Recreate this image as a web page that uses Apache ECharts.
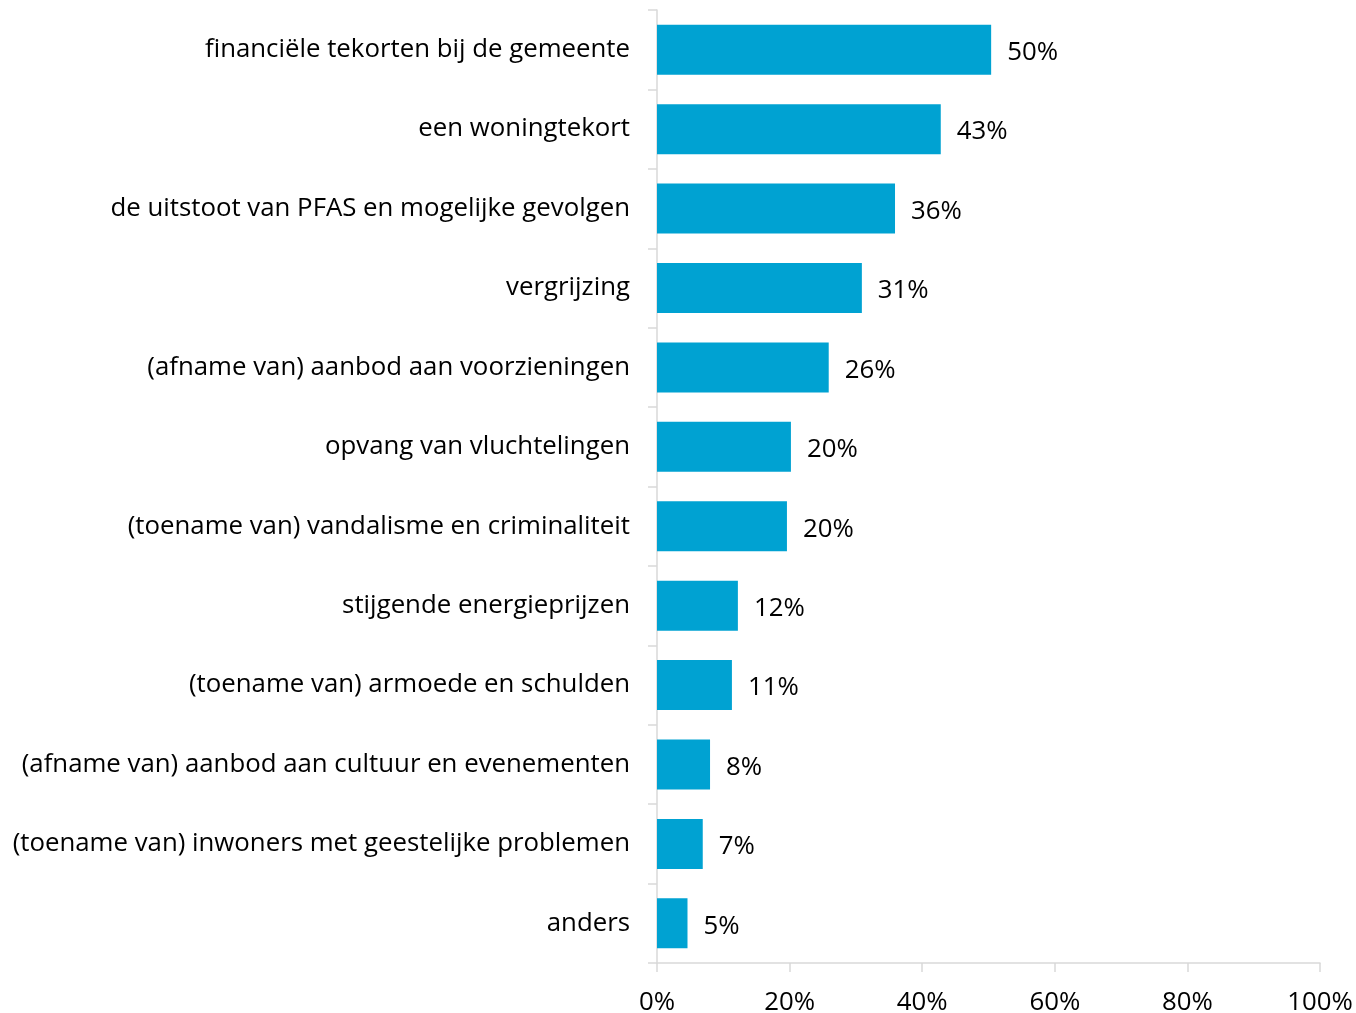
<!DOCTYPE html>
<html>
<head>
<meta charset="utf-8">
<script src="https://cdn.jsdelivr.net/npm/echarts@6/dist/echarts.min.js"></script>
<style>html,body{margin:0;padding:0;background:#fff;}#c{width:1356px;height:1013px;}</style>
</head>
<body>
<div id="c"></div>
<script>
const categories = [
  "financiële tekorten bij de gemeente",
  "een woningtekort",
  "de uitstoot van PFAS en mogelijke gevolgen",
  "vergrijzing",
  "(afname van) aanbod aan voorzieningen",
  "opvang van vluchtelingen",
  "(toename van) vandalisme en criminaliteit",
  "stijgende energieprijzen",
  "(toename van) armoede en schulden",
  "(afname van) aanbod aan cultuur en evenementen",
  "(toename van) inwoners met geestelijke problemen",
  "anders"
];
const values = [50.4, 42.8, 35.9, 30.9, 25.9, 20.2, 19.6, 12.2, 11.3, 8.0, 6.9, 4.6];
const xTicks = [0, 20, 40, 60, 80, 100];

const FONT = "Open Sans";
const FS = 25.8;
const chart = echarts.init(document.getElementById('c'));
chart.setOption({
  animation: false,
  grid: { left: 657, right: 36, top: 10, bottom: 50, containLabel: false, outerBoundsMode: 'none' },
  xAxis: {
    type: 'value', min: 0, max: 100, interval: 20,
    axisLine: { show: true, lineStyle: { color: '#d9d9d9', width: 1.5 } },
    axisTick: { show: true, length: 9, lineStyle: { color: '#d9d9d9', width: 1.5 } },
    splitLine: { show: false },
    axisLabel: { margin: 27, fontFamily: FONT, fontSize: FS, color: '#000',
      formatter: v => xTicks.includes(v) ? v + '%' : '' }
  },
  yAxis: {
    type: 'category', data: categories, inverse: true,
    axisLine: { show: true, lineStyle: { color: '#d9d9d9', width: 1.5 } },
    axisTick: { show: true, length: 9, lineStyle: { color: '#d9d9d9', width: 1.5 } },
    axisLabel: { margin: 27, fontFamily: FONT, fontSize: FS, color: '#000', padding: [6, 0, 0, 0] }
  },
  series: [{
    type: 'bar', data: values, barWidth: 50,
    itemStyle: { color: '#00a2d2' },
    label: { show: true, position: 'right', distance: 16, fontFamily: FONT, fontSize: FS, color: '#000',
      offset: [0, 3],
      formatter: p => Math.round(p.value) + '%' }
  }]
});
</script>
</body>
</html>
